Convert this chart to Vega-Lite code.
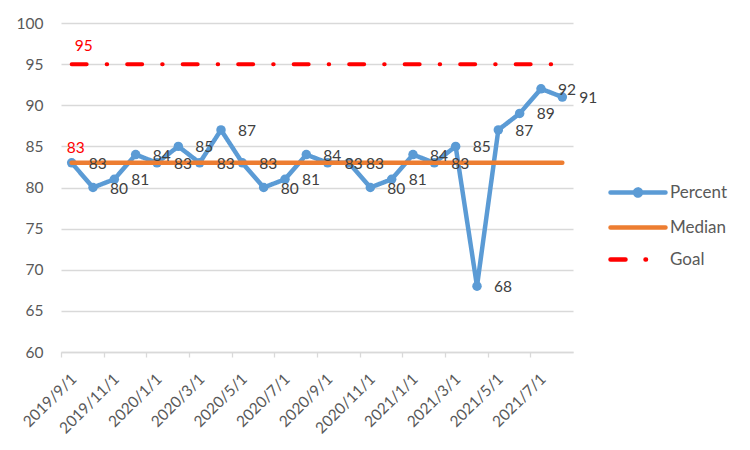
{
  "$schema": "https://vega.github.io/schema/vega-lite/v6.json",
  "width": 512,
  "height": 329,
  "autosize": {"type": "none"},
  "padding": {"left": 61, "top": 23, "right": 177, "bottom": 98},
  "background": "white",
  "config": {"view": {"stroke": null}, "font": "Lato"},
  "data": {"values": [
    {"month": "2019/9/1", "Percent": 83, "Median": 83, "Goal": 95},
    {"month": "2019/10/1", "Percent": 80, "Median": 83, "Goal": 95},
    {"month": "2019/11/1", "Percent": 81, "Median": 83, "Goal": 95},
    {"month": "2019/12/1", "Percent": 84, "Median": 83, "Goal": 95},
    {"month": "2020/1/1", "Percent": 83, "Median": 83, "Goal": 95},
    {"month": "2020/2/1", "Percent": 85, "Median": 83, "Goal": 95},
    {"month": "2020/3/1", "Percent": 83, "Median": 83, "Goal": 95},
    {"month": "2020/4/1", "Percent": 87, "Median": 83, "Goal": 95},
    {"month": "2020/5/1", "Percent": 83, "Median": 83, "Goal": 95},
    {"month": "2020/6/1", "Percent": 80, "Median": 83, "Goal": 95},
    {"month": "2020/7/1", "Percent": 81, "Median": 83, "Goal": 95},
    {"month": "2020/8/1", "Percent": 84, "Median": 83, "Goal": 95},
    {"month": "2020/9/1", "Percent": 83, "Median": 83, "Goal": 95},
    {"month": "2020/10/1", "Percent": 83, "Median": 83, "Goal": 95},
    {"month": "2020/11/1", "Percent": 80, "Median": 83, "Goal": 95},
    {"month": "2020/12/1", "Percent": 81, "Median": 83, "Goal": 95},
    {"month": "2021/1/1", "Percent": 84, "Median": 83, "Goal": 95},
    {"month": "2021/2/1", "Percent": 83, "Median": 83, "Goal": 95},
    {"month": "2021/3/1", "Percent": 85, "Median": 83, "Goal": 95},
    {"month": "2021/4/1", "Percent": 68, "Median": 83, "Goal": 95},
    {"month": "2021/5/1", "Percent": 87, "Median": 83, "Goal": 95},
    {"month": "2021/6/1", "Percent": 89, "Median": 83, "Goal": 95},
    {"month": "2021/7/1", "Percent": 92, "Median": 83, "Goal": 95},
    {"month": "2021/8/1", "Percent": 91, "Median": 83, "Goal": 95}
  ]},
  "transform": [{"fold": ["Percent", "Median", "Goal"], "as": ["series", "value"]}],
  "encoding": {
    "x": {
      "field": "month", "type": "ordinal", "sort": null,
      "scale": {"type": "point", "padding": 0.5},
      "axis": {
        "title": null,
        "values": ["2019/9/1","2019/11/1","2020/1/1","2020/3/1","2020/5/1","2020/7/1","2020/9/1","2020/11/1","2021/1/1","2021/3/1","2021/5/1","2021/7/1"],
        "labelAngle": -45, "labelAlign": "right", "labelBaseline": "middle",
        "tickOffset": -10.667, "labelOffset": 12.5,
        "tickSize": 5, "tickColor": "#D9D9D9", "tickWidth": 1.3,
        "domainColor": "#D9D9D9", "domainWidth": 1.3,
        "labelPadding": 19, "labelFontSize": 15.5, "labelColor": "#595959",
        "labelFont": "Lato", "grid": false, "labelOverlap": false
      }
    },
    "y": {
      "field": "value", "type": "quantitative",
      "scale": {"domain": [60, 100], "nice": false, "zero": false},
      "axis": {
        "title": null, "values": [60,65,70,75,80,85,90,95,100],
        "domain": false, "ticks": false, "labelPadding": 18,
        "gridColor": "#D9D9D9", "gridWidth": 1.3,
        "labelFontSize": 15.5, "labelColor": "#595959", "labelFont": "Lato"
      }
    }
  },
  "layer": [
    {
      "transform": [{"filter": "datum.series === 'Percent'"}],
      "mark": {"type": "line", "strokeWidth": 4.5, "strokeCap": "round", "strokeJoin": "round"},
      "encoding": {
        "color": {"field": "series", "type": "nominal",
          "scale": {"domain": ["Percent", "Median", "Goal"], "range": ["#5B9BD5", "#ED7D31", "#FF0000"]},
          "legend": {"title": null, "orient": "none", "legendX": 547, "legendY": 157,
            "labelFontSize": 17, "labelColor": "#595959", "labelFont": "Lato",
            "symbolSize": 400, "labelOffset": 37, "rowPadding": 10, "padding": 0,
            "symbolStrokeWidth": 4.5,
            "encode": {"symbols": {"update": {
              "shape": {"signal": "datum.value === 'Percent' ? 'M-1,0H4.5M1.45,0A0.3,0.3 0 1,0 2.05,0A0.3,0.3 0 1,0 1.45,0Z' : 'M-1,0H4.5'"},
              "fill": {"signal": "datum.value === 'Percent' ? '#5B9BD5' : 'transparent'"},
              "strokeCap": {"value": "round"}
            }}}
          }},
        "strokeDash": {"field": "series", "type": "nominal",
          "scale": {"domain": ["Percent", "Median", "Goal"], "range": [[1, 0], [1, 0], [15, 20, 0.5, 20]]},
          "legend": {"title": null, "orient": "none", "legendX": 547, "legendY": 157,
            "labelFontSize": 17, "labelColor": "#595959", "labelFont": "Lato",
            "symbolSize": 400, "labelOffset": 37, "rowPadding": 10, "padding": 0,
            "symbolStrokeWidth": 4.5,
            "encode": {"symbols": {"update": {
              "shape": {"signal": "datum.value === 'Percent' ? 'M-1,0H4.5M1.45,0A0.3,0.3 0 1,0 2.05,0A0.3,0.3 0 1,0 1.45,0Z' : 'M-1,0H4.5'"},
              "fill": {"signal": "datum.value === 'Percent' ? '#5B9BD5' : 'transparent'"},
              "strokeCap": {"value": "round"}
            }}}
          }}
      }
    },
    {
      "transform": [{"filter": "datum.series === 'Percent'"}],
      "mark": {"type": "point", "filled": true, "size": 90, "opacity": 1, "color": "#5B9BD5"}
    },
    {
      "transform": [{"filter": "datum.series === 'Median'"}],
      "mark": {"type": "line", "strokeWidth": 4.5, "strokeCap": "round"},
      "encoding": {
        "color": {"field": "series", "type": "nominal", "scale": {"domain": ["Percent", "Median", "Goal"], "range": ["#5B9BD5", "#ED7D31", "#FF0000"]}},
        "strokeDash": {"field": "series", "type": "nominal", "scale": {"domain": ["Percent", "Median", "Goal"], "range": [[1, 0], [1, 0], [15, 20, 0.5, 20]]}}
      }
    },
    {
      "transform": [{"filter": "datum.series === 'Goal'"}],
      "mark": {"type": "line", "strokeWidth": 4, "strokeCap": "round"},
      "encoding": {
        "color": {"field": "series", "type": "nominal", "scale": {"domain": ["Percent", "Median", "Goal"], "range": ["#5B9BD5", "#ED7D31", "#FF0000"]}},
        "strokeDash": {"field": "series", "type": "nominal", "scale": {"domain": ["Percent", "Median", "Goal"], "range": [[1, 0], [1, 0], [15, 20, 0.5, 20]]}}
      }
    },
    {
      "transform": [{"filter": "datum.series === 'Percent'"}],
      "mark": {"type": "text", "align": "left", "baseline": "middle", "dx": 17, "dy": 1, "fontSize": 15.5, "font": "Lato", "color": "#404040"},
      "encoding": {"text": {"field": "value", "type": "quantitative"}}
    },
    {
      "transform": [{"filter": "datum.series === 'Median' && datum.month === '2019/9/1'"}],
      "mark": {"type": "text", "align": "center", "baseline": "middle", "dx": 4, "dy": -15, "fontSize": 15.5, "font": "Lato", "color": "#FF0000"},
      "encoding": {"text": {"field": "value", "type": "quantitative"}}
    },
    {
      "transform": [{"filter": "datum.series === 'Goal' && datum.month === '2019/9/1'"}],
      "mark": {"type": "text", "align": "center", "baseline": "middle", "dx": 12, "dy": -18, "fontSize": 15.5, "font": "Lato", "color": "#FF0000"},
      "encoding": {"text": {"field": "value", "type": "quantitative"}}
    }
  ]
}
